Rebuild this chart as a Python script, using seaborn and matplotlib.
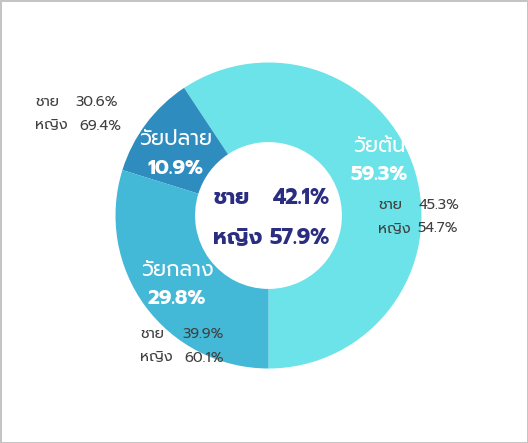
import matplotlib
matplotlib.use("Agg")
import matplotlib.pyplot as plt
import seaborn as sns
from matplotlib import font_manager as fm

# ---- data ----
groups = ["วัยต้น", "วัยปลาย", "วัยกลาง"]
shares = [59.3, 10.9, 29.8]
male = [45.3, 30.6, 39.9]
female = [54.7, 69.4, 60.1]
total_male = 42.1
total_female = 57.9
label_male = "ชาย"
label_female = "หญิง"
colors = ["#6BE3E8", "#2E8CBF", "#44B8D7"]

sns.set_theme(style="white")
names = {f.name for f in fm.fontManager.ttflist}
thai = next((n for n in ["Prompt", "Kanit", "Mitr", "Noto Sans Thai"] if n in names), "DejaVu Sans")
plt.rcParams["font.family"] = [thai, "DejaVu Sans"]

W, H = 528, 443
fig = plt.figure(figsize=(W / 100, H / 100), dpi=100)
fig.patch.set_facecolor("white")
fig.patch.set_edgecolor("#c4c4c4")
fig.patch.set_linewidth(2)

cx, cy, R = 268.5, 215.5, 153
ax = fig.add_axes([(cx - R) / W, (H - cy - R) / H, 2 * R / W, 2 * R / H])
ax.pie(shares, colors=colors, startangle=-90, counterclock=True, radius=1.0,
       wedgeprops=dict(width=0.52, linewidth=0))
ax.set_xlim(-1, 1)
ax.set_ylim(-1, 1)
ax.set_aspect("equal")
ax.axis("off")


def P(x, y):
    return x / W, 1 - y / H


# segment labels (white)
seg_pos = [(379, 147, 175), (176, 140, 169), (177, 271, 299)]
for g, s, (x, y1, y2) in zip(groups, shares, seg_pos):
    fig.text(*P(x, y1), g, color="white", fontsize=15, fontweight="normal", ha="center", va="center")
    fig.text(*P(x, y2), f"{s:.1f}%", color="white", fontsize=14.5, fontweight="bold",
             ha="center", va="center")

# gender breakdowns
ann_pos = [(378, 419, 417, 206, 229), (35, 75, 79, 102, 126), (140, 182, 184, 335, 358)]
grey = "#404040"
for m, f, (xl, xv1, xv2, y1, y2) in zip(male, female, ann_pos):
    fig.text(*P(xl, y1), label_male, color=grey, fontsize=10.5, ha="left", va="center")
    fig.text(*P(xv1, y1), f"{m:.1f}%", color=grey, fontsize=10.5, ha="left", va="center")
    fig.text(*P(xl, y2), label_female, color=grey, fontsize=10.5, ha="left", va="center")
    fig.text(*P(xv2, y2), f"{f:.1f}%", color=grey, fontsize=10.5, ha="left", va="center")

# centre totals
navy = "#2B2E80"
fs = 15.5
fig.text(*P(213, 198), label_male, color=navy, fontsize=fs, fontweight="bold", ha="left", va="center")
fig.text(*P(330, 198), f"{total_male:.1f}%", color=navy, fontsize=fs, fontweight="bold", ha="right", va="center")
fig.text(*P(213, 239), label_female, color=navy, fontsize=fs, fontweight="bold", ha="left", va="center")
fig.text(*P(330, 239), f"{total_female:.1f}%", color=navy, fontsize=fs, fontweight="bold", ha="right", va="center")

fig.savefig("out.png", dpi=100, facecolor="white", edgecolor="#c4c4c4")
